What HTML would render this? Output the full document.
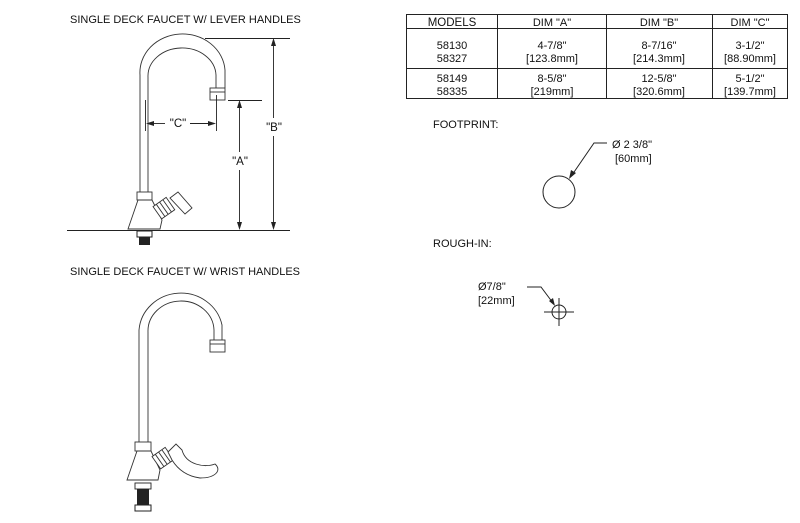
<!DOCTYPE html>
<html><head><style>
body{margin:0;background:#fff}
svg text{font-family:"Liberation Sans",sans-serif;fill:#111}
</style></head><body>
<svg width="800" height="518" viewBox="0 0 800 518" xmlns="http://www.w3.org/2000/svg">
<g font-size="11">
<text x="70" y="23">SINGLE DECK FAUCET W/ LEVER HANDLES</text>
<text x="70" y="275">SINGLE DECK FAUCET W/  WRIST HANDLES</text>
<text x="433" y="128">FOOTPRINT:</text>
<text x="433" y="247">ROUGH-IN:</text>
</g>
<!-- table -->
<g stroke="#222" fill="none" stroke-width="1">
<rect x="406.5" y="14.5" width="381" height="84"/>
<line x1="406" y1="28.5" x2="788" y2="28.5"/>
<line x1="406" y1="68.5" x2="788" y2="68.5"/>
<line x1="497.5" y1="14" x2="497.5" y2="98"/>
<line x1="606.5" y1="14" x2="606.5" y2="98"/>
<line x1="712.5" y1="14" x2="712.5" y2="98"/>
</g>
<g font-size="11" text-anchor="middle">
<text x="452" y="26" font-size="11.5">MODELS</text><text x="552" y="26">DIM "A"</text><text x="659" y="26">DIM "B"</text><text x="750" y="26">DIM "C"</text>
<text x="452" y="49">58130</text><text x="452" y="62">58327</text>
<text x="552" y="49">4-7/8"</text><text x="552" y="62">[123.8mm]</text>
<text x="659" y="49">8-7/16"</text><text x="659" y="62">[214.3mm]</text>
<text x="750" y="49">3-1/2"</text><text x="750" y="62">[88.90mm]</text>
<text x="452" y="82">58149</text><text x="452" y="95">58335</text>
<text x="552" y="82">8-5/8"</text><text x="552" y="95">[219mm]</text>
<text x="659" y="82">12-5/8"</text><text x="659" y="95">[320.6mm]</text>
<text x="750" y="82">5-1/2"</text><text x="750" y="95">[139.7mm]</text>
</g>
<!-- footprint -->
<circle cx="559" cy="192" r="16" fill="none" stroke="#222"/>
<path d="M607 143 H594 L572 175" fill="none" stroke="#222"/>
<polygon points="569,179 571,170 576,173" fill="#222"/>
<g font-size="11"><text x="612" y="148">Ø 2 3/8"</text><text x="615" y="162">[60mm]</text>
<text x="478" y="290">Ø7/8"</text><text x="478" y="304">[22mm]</text></g>
<!-- rough-in -->
<circle cx="559" cy="312" r="7" fill="none" stroke="#222"/>
<path d="M544 312 H574 M559 298 V326" stroke="#222"/>
<path d="M527 287 H541 L553 303" fill="none" stroke="#222"/>
<polygon points="555,306 549,301 553,298" fill="#222"/>
<!-- faucet 1 -->
<g fill="none" stroke="#333" stroke-width="0.9">
<path d="M140 192 V75 A42 38 0 0 1 225 70 V88"/>
<path d="M148 192 V77 A34 28 0 0 1 216 75 V88"/>
<rect x="210" y="88" width="15" height="12"/>
<line x1="210" y1="92" x2="225" y2="92"/>
<rect x="137" y="192" width="15" height="8"/>
<path d="M138 200 H152 L162 220 L160 229 H128 Z"/>
<g transform="rotate(-35 165 208)"><rect x="156" y="200" width="16" height="15" fill="#fff"/><path d="M160 200V215M164 200V215M168 200V215"/></g>
<path d="M170 198 L178 192 L192 208 L185 214 Z" fill="#fff"/>
<line x1="67" y1="230.5" x2="290" y2="230.5" stroke="#222"/>
<line x1="205" y1="38.5" x2="290" y2="38.5" stroke="#222"/>
<line x1="228" y1="100.5" x2="262" y2="100.5" stroke="#222"/>
<line x1="273.5" y1="42" x2="273.5" y2="118" stroke="#222"/>
<line x1="273.5" y1="136" x2="273.5" y2="227" stroke="#222"/>
<line x1="239.5" y1="104" x2="239.5" y2="152" stroke="#222"/>
<line x1="239.5" y1="170" x2="239.5" y2="227" stroke="#222"/>
<line x1="145.5" y1="100" x2="145.5" y2="131" stroke="#222"/>
<line x1="216.5" y1="95" x2="216.5" y2="131" stroke="#222"/>
<line x1="149" y1="123.5" x2="165" y2="123.5" stroke="#222"/>
<line x1="190" y1="123.5" x2="213" y2="123.5" stroke="#222"/>
</g>
<g fill="#222">
<polygon points="273.5,38 271,46 276,46"/><polygon points="273.5,230 271,222 276,222"/>
<polygon points="239.5,100 237,108 242,108"/><polygon points="239.5,230 237,222 242,222"/>
<polygon points="146,123.5 154,121 154,126"/><polygon points="216,123.5 208,121 208,126"/>
<rect x="137" y="231" width="15" height="6" fill="#fff" stroke="#222"/>
<rect x="139" y="237" width="11" height="8"/>
</g>
<g font-size="11.5" text-anchor="middle"><text x="274" y="131">"B"</text><text x="240" y="165">"A"</text><text x="178" y="127">"C"</text></g>
<!-- faucet 2 -->
<g fill="none" stroke="#333" stroke-width="0.9">
<path d="M139 442 V330 A42 40 0 0 1 222 325 V340"/>
<path d="M148 442 V332 A33 30 0 0 1 214 330 V340"/>
<rect x="210" y="340" width="15" height="12"/>
<line x1="210" y1="344" x2="225" y2="344"/>
<rect x="135" y="442" width="16" height="9"/>
<path d="M137 451 H151 L160 470 L158 480 H127 Z"/>
<g transform="rotate(-35 164 458)"><rect x="155" y="450" width="16" height="15" fill="#fff"/><path d="M159 450V465M163 450V465M167 450V465"/></g>
<path d="M168 452 L176 444 L182 450 C186 465 205 468 215 464 C222 470 216 478 200 478 C185 476 177 468 172 460 Z" fill="#fff"/>
<rect x="135" y="483" width="16" height="6" fill="#fff" stroke="#222"/>
</g>
<rect x="137" y="489" width="12" height="16" fill="#222"/>
<rect x="135" y="505" width="16" height="6" fill="#fff" stroke="#222"/>
</svg>
</body></html>
